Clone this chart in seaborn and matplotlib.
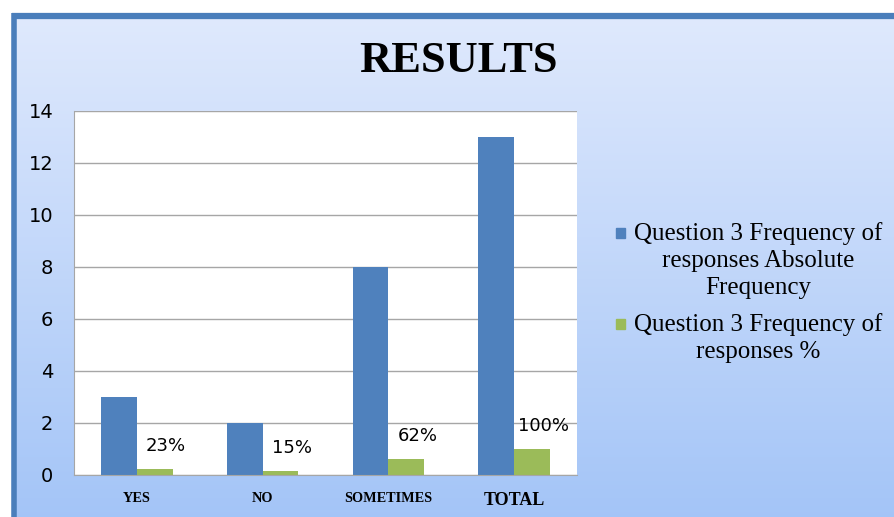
import matplotlib
matplotlib.use("Agg")
import matplotlib.pyplot as plt
import seaborn as sns
import pandas as pd
import numpy as np

categories = ["YES", "NO", "SOMETIMES", "TOTAL"]
absolute_freq = [3, 2, 8, 13]
percent_freq = [0.23, 0.15, 0.62, 1.0]
percent_labels = ["23%", "15%", "62%", "100%"]
series_names = ["Question 3 Frequency of\nresponses Absolute\nFrequency",
                "Question 3 Frequency of\nresponses %"]
colors = ["#4f81bd", "#9bbb59"]

df = pd.DataFrame({
    "category": categories * 2,
    "value": absolute_freq + percent_freq,
    "series": [series_names[0]] * 4 + [series_names[1]] * 4,
})

sns.set_style("white")
plt.rcParams["text.color"] = "black"
plt.rcParams["xtick.color"] = "black"
plt.rcParams["ytick.color"] = "black"
W, H = 894, 517
fig = plt.figure(figsize=(W / 100, H / 100), dpi=100)
fig.patch.set_facecolor("white")

# background frame with vertical gradient
bg = fig.add_axes([0, 0, 1, 1], zorder=-1)
bg.axis("off")
top = np.array([0.875, 0.914, 0.99]); bot = np.array([0.64, 0.77, 0.97])
t = np.linspace(0, 1, 256)[:, None]
grad = (top * (1 - t) + bot * t)[:, None, :]
bg.imshow(grad, extent=[13, W + 5, H + 5, 16], aspect="auto")
bg.plot([13.5, 13.5], [H + 5, 13], color="#4a7ebb", lw=4, solid_capstyle="butt")
bg.plot([11.5, W + 5], [15.5, 15.5], color="#4a7ebb", lw=4.5, solid_capstyle="butt")
bg.set_xlim(0, W); bg.set_ylim(H, 0)

ax = fig.add_axes([74 / W, 1 - 475 / H, 503 / W, 364 / H], zorder=1)
ax.set_facecolor("white")
sns.barplot(data=df, x="category", y="value", hue="series",
            palette=colors, width=0.57, saturation=1,
            linewidth=0, edgecolor="none", ax=ax, legend=False)

ax.set_ylim(0, 14)
ax.set_yticks(range(0, 15, 2))
ax.yaxis.grid(True, color="#a6a6a6", lw=1)
ax.set_axisbelow(True)
ax.set_xlabel(""); ax.set_ylabel("")
for s in ["top", "right"]:
    ax.spines[s].set_visible(False)
for s in ["left", "bottom"]:
    ax.spines[s].set_color("#a6a6a6")
ax.tick_params(axis="y", length=5, color="#a6a6a6", labelsize=14, pad=10)
ax.tick_params(axis="x", length=0, pad=12)
for lab in ax.get_yticklabels():
    lab.set_fontfamily("DejaVu Sans")
for lab in ax.get_xticklabels():
    lab.set_fontfamily("Liberation Serif")
    lab.set_fontweight("bold")
    lab.set_fontsize(13 if lab.get_text() == "TOTAL" else 10.3)

for bar, txt in zip(ax.containers[1], percent_labels):
    ax.annotate(txt, (bar.get_x() + bar.get_width() / 2, bar.get_height()),
                xytext=(8, 10), textcoords="offset points",
                ha="center", va="bottom", fontsize=13,
                family="DejaVu Sans")

# legend: square marker beside the first line of each centred label
leg_y = [233, 324]
for name, col, y in zip(series_names, colors, leg_y):
    fig.patches.append(plt.Rectangle((616 / W, 1 - (y + 5) / H), 9 / W, 10 / H,
                                     transform=fig.transFigure, color=col))
    fig.text(758 / W, 1 - (y - 11) / H, name, ha="center", va="top",
             multialignment="center", linespacing=1.3,
             family="Liberation Serif", fontsize=18)

fig.text(458 / W, 1 - 61 / H, "RESULTS", ha="center", va="center",
         fontsize=32, fontweight="bold", family="Liberation Serif")

fig.savefig("out.png", dpi=100)
